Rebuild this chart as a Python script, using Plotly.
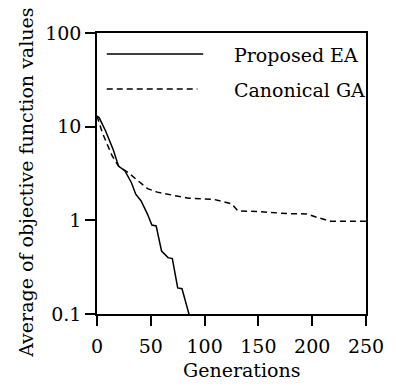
import plotly.graph_objects as go

# Proposed EA (solid)
ea_gen = [0, 2, 8, 15, 20, 26, 32, 36, 41, 47, 51, 55, 60, 66, 70, 75, 79, 86]
ea_val = [13.0, 12.5, 9.0, 5.7, 3.8, 3.37, 2.52, 1.90, 1.61, 1.16, 0.89, 0.87,
          0.47, 0.40, 0.39, 0.19, 0.186, 0.095]

# Canonical GA (dashed)
ga_gen = [0, 5, 14, 20, 29, 38, 47, 56, 68, 85, 108, 125, 131, 150, 177, 195,
          205, 217, 250]
ga_val = [13.0, 8.6, 4.9, 3.8, 3.23, 2.63, 2.18, 2.0, 1.88, 1.72, 1.68, 1.50,
          1.26, 1.24, 1.18, 1.17, 1.07, 0.98, 0.98]

x_ticks = [0, 50, 100, 150, 200, 250]
y_ticks = [0.1, 1, 10, 100]
y_tick_text = ["0.1", "1", "10", "100"]

FONT = "DejaVu Serif"
FS = 19

fig = go.Figure()
fig.add_trace(go.Scatter(x=ea_gen, y=ea_val, mode="lines",
                         line=dict(color="black", width=1.5), name="Proposed EA",
                         showlegend=False))
fig.add_trace(go.Scatter(x=ga_gen, y=ga_val, mode="lines",
                         line=dict(color="black", width=1.5, dash="6px,4px"),
                         name="Canonical GA", showlegend=False))

L, R, T, B = 97, 23, 33, 74
W, H = 396, 388
pw, ph = W - L - R, H - T - B

def px(xp):
    return (xp - L) / pw

def py(yp):
    return (H - B - yp) / ph

shapes = [
    dict(type="line", xref="paper", yref="paper", x0=px(107), x1=px(206),
         y0=py(54), y1=py(54), line=dict(color="black", width=1.5)),
    dict(type="line", xref="paper", yref="paper", x0=px(107), x1=px(200),
         y0=py(89), y1=py(89), line=dict(color="black", width=1.5, dash="6px,4px")),
]

annotations = [
    dict(text="Proposed EA", xref="paper", yref="paper", x=px(235), y=py(55),
         xanchor="left", yanchor="middle", showarrow=False,
         font=dict(family=FONT, size=FS, color="black")),
    dict(text="Canonical GA", xref="paper", yref="paper", x=px(235), y=py(90),
         xanchor="left", yanchor="middle", showarrow=False,
         font=dict(family=FONT, size=FS, color="black")),
    dict(text="Average of objective function values", xref="paper", yref="paper",
         x=px(24), y=py(183), xanchor="center", yanchor="middle", textangle=-90,
         showarrow=False, font=dict(family=FONT, size=FS, color="black")),
    dict(text="Generations", xref="paper", yref="paper", x=px(245), y=py(370),
         xanchor="center", yanchor="middle", showarrow=False,
         font=dict(family=FONT, size=FS, color="black")),
]

fig.update_layout(
    width=W, height=H,
    margin=dict(l=L, r=R, t=T, b=B, pad=0),
    paper_bgcolor="white", plot_bgcolor="white",
    font=dict(family=FONT, size=FS, color="black"),
    shapes=shapes, annotations=annotations,
    xaxis=dict(range=[0, 250], tickvals=x_ticks, ticks="outside", ticklen=10,
               tickwidth=1.5, tickcolor="black", showline=True, linecolor="black",
               linewidth=1.5, mirror=True, showgrid=False, zeroline=False,
               ticklabelstandoff=4, tickfont=dict(family=FONT, size=FS)),
    yaxis=dict(type="log", range=[-1, 2], tickvals=y_ticks, ticktext=y_tick_text,
               ticks="outside", ticklen=10, tickwidth=1.5, tickcolor="black",
               showline=True, linecolor="black", linewidth=1.5, mirror=True,
               showgrid=False, zeroline=False, tickfont=dict(family=FONT, size=FS)),
)

fig.write_html("out.html")
